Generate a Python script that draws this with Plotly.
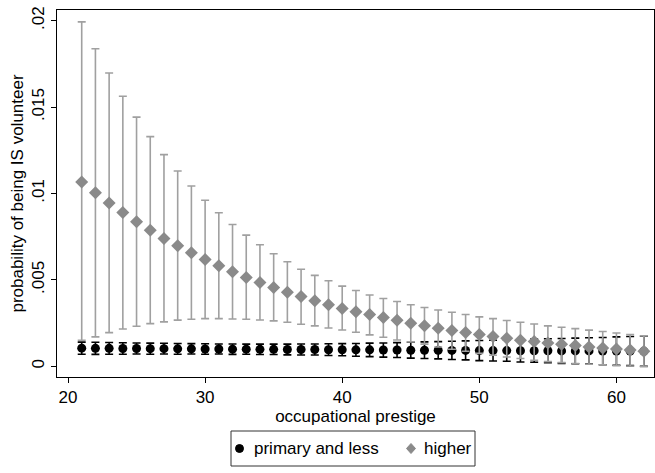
import plotly.graph_objects as go

prestige = list(range(21, 63))

primary_est = [0.00105,0.00104,0.00104,0.00103,0.00103,0.00102,0.00102,0.00101,0.00101,0.00100,
               0.00100,0.00099,0.00099,0.00098,0.00098,0.00097,0.00097,0.00097,0.00096,0.00096,
               0.00095,0.00095,0.00094,0.00094,0.00093,0.00093,0.00093,0.00092,0.00092,0.00091,
               0.00091,0.00091,0.00090,0.00090,0.00090,0.00089,0.00089,0.00089,0.00088,0.00088,
               0.00088,0.00087]
primary_hi = [0.00140,0.00139,0.00138,0.00136,0.00135,0.00134,0.00133,0.00132,0.00131,0.00130,
              0.00129,0.00129,0.00128,0.00128,0.00128,0.00128,0.00129,0.00129,0.00130,0.00131,
              0.00132,0.00134,0.00135,0.00137,0.00139,0.00141,0.00143,0.00145,0.00147,0.00149,
              0.00151,0.00153,0.00155,0.00157,0.00159,0.00161,0.00163,0.00165,0.00167,0.00170,
              0.00172,0.00174]
primary_lo = [0.00070,0.00069,0.00070,0.00070,0.00071,0.00070,0.00071,0.00070,0.00071,0.00070,
              0.00071,0.00069,0.00070,0.00068,0.00068,0.00066,0.00065,0.00065,0.00062,0.00061,
              0.00058,0.00056,0.00053,0.00051,0.00047,0.00045,0.00043,0.00039,0.00037,0.00033,
              0.00031,0.00029,0.00025,0.00023,0.00021,0.00017,0.00015,0.00013,0.00009,0.00006,
              0.00004,0.00000]

higher_est = [0.01067,0.01005,0.00945,0.00890,0.00837,0.00788,0.00740,0.00698,0.00657,0.00618,
              0.00582,0.00547,0.00514,0.00485,0.00456,0.00429,0.00404,0.00379,0.00356,0.00334,
              0.00315,0.00300,0.00282,0.00267,0.00249,0.00234,0.00220,0.00207,0.00195,0.00184,
              0.00172,0.00162,0.00151,0.00143,0.00135,0.00128,0.00120,0.00112,0.00106,0.00100,
              0.00094,0.00087]
higher_hi = [0.01993,0.01838,0.01697,0.01563,0.01442,0.01329,0.01225,0.01130,0.01043,0.00961,
             0.00889,0.00821,0.00759,0.00703,0.00651,0.00605,0.00562,0.00526,0.00495,0.00464,
             0.00439,0.00413,0.00392,0.00375,0.00356,0.00340,0.00326,0.00313,0.00300,0.00286,
             0.00276,0.00265,0.00255,0.00245,0.00234,0.00226,0.00218,0.00209,0.00201,0.00193,
             0.00184,0.00176]
higher_lo = [0.00151,0.00170,0.00195,0.00216,0.00232,0.00247,0.00257,0.00267,0.00272,0.00276,
             0.00276,0.00274,0.00272,0.00268,0.00263,0.00255,0.00243,0.00234,0.00222,0.00210,
             0.00197,0.00182,0.00168,0.00152,0.00141,0.00128,0.00112,0.00099,0.00087,0.00075,
             0.00064,0.00054,0.00045,0.00035,0.00027,0.00021,0.00016,0.00012,0.00008,0.00004,
             0.00002,-0.00002]

x_ticks = [20, 30, 40, 50, 60]
y_ticks = [0, 0.005, 0.01, 0.015, 0.02]
y_tick_labels = ["0", ".005", ".01", ".015", ".02"]
series_names = ["primary and less", "higher"]

FONT = "Liberation Sans, Arial, sans-serif"
W, H = 655, 473
ML, MR, MT, MB = 57, 1, 10, 96
PW, PH = W - ML - MR, H - MT - MB

def px_x(px):
    return (px - ML) / PW

def px_y(py):
    return (H - MB - py) / PH

def err(est, lo, hi):
    return dict(type="data", symmetric=False,
                array=[h - e for h, e in zip(hi, est)],
                arrayminus=[e - l for e, l in zip(est, lo)])

fig = go.Figure()
fig.add_trace(go.Scatter(
    x=prestige, y=primary_est, mode="markers", name=series_names[0],
    marker=dict(symbol="circle", size=9, color="black"),
    error_y=dict(**err(primary_est, primary_lo, primary_hi), color="black", thickness=1.6, width=4),
))
fig.add_trace(go.Scatter(
    x=prestige, y=higher_est, mode="markers", name=series_names[1],
    marker=dict(symbol="diamond", size=10, color="#8a8a8a"),
    error_y=dict(**err(higher_est, higher_lo, higher_hi), color="#a0a0a0", thickness=1.6, width=4),
))

# legend drawn as box + symbols + text (Stata-style compact legend)
shapes = [
    dict(type="rect", xref="paper", yref="paper",
         x0=px_x(231), x1=px_x(475), y0=px_y(466), y1=px_y(431),
         line=dict(color="#333333", width=1), fillcolor="white"),
    dict(type="circle", xref="paper", yref="paper",
         x0=px_x(235.5), x1=px_x(243.5), y0=px_y(452.5), y1=px_y(444.5),
         line=dict(color="black", width=1), fillcolor="black"),
    dict(type="path", xref="paper", yref="paper",
         path="M {} {} L {} {} L {} {} L {} {} Z".format(
             px_x(411), px_y(443.5), px_x(415.5), px_y(448.5),
             px_x(411), px_y(453.5), px_x(406.5), px_y(448.5)),
         line=dict(color="#8a8a8a", width=1), fillcolor="#8a8a8a"),
]
annotations = [
    dict(text=series_names[0], xref="paper", yref="paper", x=px_x(252), y=px_y(448.5),
         xanchor="left", yanchor="middle", showarrow=False, font=dict(size=17, color="black")),
    dict(text=series_names[1], xref="paper", yref="paper", x=px_x(422), y=px_y(448.5),
         xanchor="left", yanchor="middle", showarrow=False, font=dict(size=17, color="black")),
]

fig.update_layout(
    width=W, height=H,
    margin=dict(l=ML, r=MR, t=MT, b=MB),
    paper_bgcolor="white", plot_bgcolor="white",
    font=dict(family=FONT, size=17, color="black"),
    showlegend=False,
    shapes=shapes, annotations=annotations,
    xaxis=dict(range=[19.198, 62.74], tickvals=x_ticks, ticks="outside", ticklen=5,
               tickcolor="black", showgrid=False, zeroline=False, showline=True,
               linecolor="black", linewidth=1, mirror=True, automargin=False,
               title=dict(text="occupational prestige", standoff=2, font=dict(size=17))),
    yaxis=dict(range=[-0.00062, 0.02062], tickvals=y_ticks, ticktext=y_tick_labels,
               tickangle=-90, ticks="outside", ticklen=5, tickcolor="black",
               showgrid=False, zeroline=False, showline=True, linecolor="black",
               linewidth=1, mirror=True, automargin=False,
               title=dict(text="probability of being IS volunteer", standoff=1, font=dict(size=17))),
)

fig.write_html("out.html", config={"displayModeBar": False},
               post_script="document.body.style.margin='0';document.body.style.padding='0';")
